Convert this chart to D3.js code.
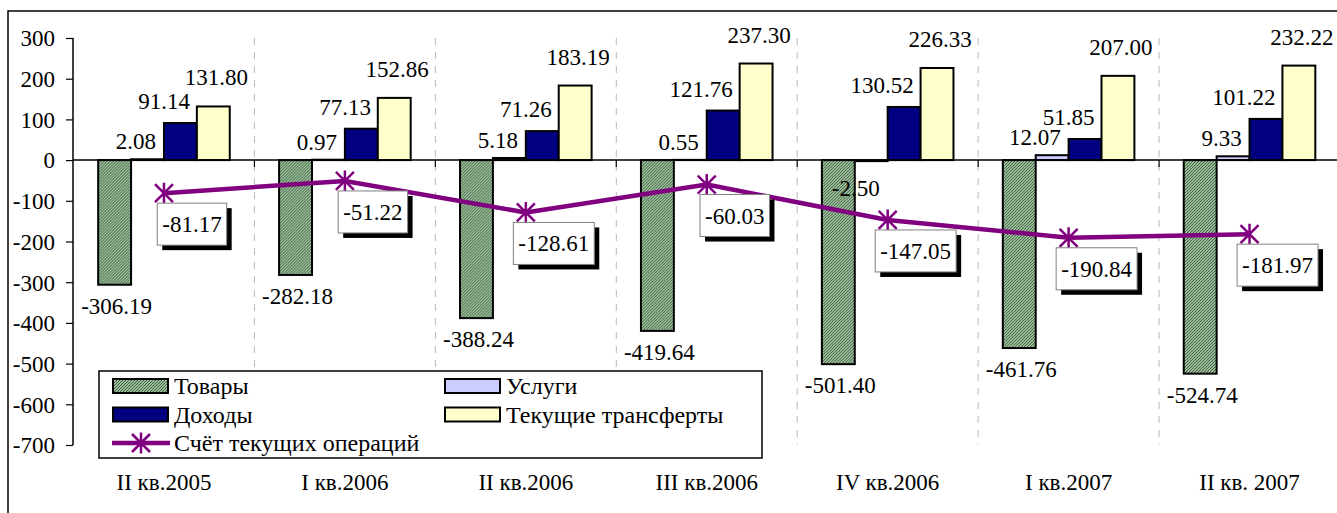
<!DOCTYPE html>
<html>
<head>
<meta charset="utf-8">
<script src="https://cdn.jsdelivr.net/npm/d3@7"></script>
<style>
  html, body { margin: 0; padding: 0; background: #fff; }
  svg { display: block; }
  text { font-family: "Liberation Serif", "Times New Roman", serif; font-size: 23px; fill: #000; }
  .legend text { font-size: 24px; }
</style>
</head>
<body>
<svg id="chart"></svg>
<script>
var width = 1337;
var height = 513;

// data
const categories = ["II кв.2005", "I кв.2006", "II кв.2006", "III кв.2006", "IV кв.2006", "I кв.2007", "II кв. 2007"];
const seriesNames = ["Товары", "Услуги", "Доходы", "Текущие трансферты"];
const lineName = "Счёт текущих операций";
const goods = [-306.19, -282.18, -388.24, -419.64, -501.40, -461.76, -524.74];
const services = [2.08, 0.97, 5.18, 0.55, -2.50, 12.07, 9.33];
const income = [91.14, 77.13, 71.26, 121.76, 130.52, 51.85, 101.22];
const transfers = [131.80, 152.86, 183.19, 237.30, 226.33, 207.00, 232.22];
const currentAccount = [-81.17, -51.22, -128.61, -60.03, -147.05, -190.84, -181.97];
const yTicks = [300, 200, 100, 0, -100, -200, -300, -400, -500, -600, -700];

const seriesValues = [goods, services, income, transfers];
const fills = ["url(#hatch)", "#ccccff", "#000080", "#ffffcc"];
const purple = "#800080";

let svg = d3.select("#chart")
    .attr("width", width)
    .attr("height", height)
    .attr("viewBox", [0, 0, width, height]);

// hatch for goods
let defs = svg.append("defs");
let pat = defs.append("pattern")
    .attr("id", "hatch")
    .attr("patternUnits", "userSpaceOnUse")
    .attr("width", 3).attr("height", 3);
pat.append("rect").attr("width", 3).attr("height", 3).attr("fill", "#cfe6c8");
pat.append("path")
    .attr("d", "M-1,1 l2,-2 M0,3 l3,-3 M2,4 l2,-2")
    .attr("stroke", "#2e5a34").attr("stroke-width", 1.1);

// outer frame
svg.append("rect")
    .attr("x", 8).attr("y", 11)
    .attr("width", 1345).attr("height", 530)
    .attr("fill", "none").attr("stroke", "#000").attr("stroke-width", 1.5);

const x = d3.scaleBand().domain(categories).range([73.5, 1340]).padding(0);
const x1 = d3.scaleBand().domain(seriesNames).range([0, x.bandwidth()]).paddingInner(0).paddingOuter(0.75);
const y = d3.scaleLinear().domain([-700, 300]).range([445, 38]);
const barW = x1.bandwidth();
const center = c => x(c) + x.bandwidth() / 2;
const fmt = v => v.toFixed(2);   // plain hyphen, as in the original

// dashed category gridlines
svg.append("g").selectAll("line")
    .data(categories.slice(1).map(c => x(c)).concat([x.range()[1]]))
    .join("line")
    .attr("x1", d => d).attr("x2", d => d)
    .attr("y1", y(300)).attr("y2", y(-700))
    .attr("stroke", "#b8b8b8").attr("stroke-width", 1)
    .attr("stroke-dasharray", "7,7");

// y axis
let yAxis = svg.append("g").attr("transform", "translate(73,0)")
    .call(d3.axisLeft(y).tickValues(yTicks).tickSize(7).tickPadding(11).tickFormat(d => String(d)));
yAxis.attr("font-size", null).attr("font-family", null);
yAxis.select(".domain").attr("stroke", "#000").attr("stroke-width", 1.5).attr("d", "M0," + y(300) + "V" + y(-700));
yAxis.selectAll(".tick line").attr("stroke", "#000").attr("stroke-width", 1.2);
yAxis.selectAll(".tick text").attr("dy", "0.34em");

// bars
let groups = svg.append("g").selectAll("g")
    .data(categories)
    .join("g")
    .attr("transform", c => "translate(" + x(c) + ",0)");

groups.selectAll("rect")
    .data((c, i) => seriesNames.map((s, k) => ({s: s, k: k, v: seriesValues[k][i]})))
    .join("rect")
    .attr("x", d => x1(d.s))
    .attr("y", d => y(Math.max(0, d.v)))
    .attr("width", barW)
    .attr("height", d => Math.abs(y(d.v) - y(0)))
    .attr("fill", d => fills[d.k])
    .attr("stroke", "#000")
    .attr("stroke-width", 2);

// zero line with category ticks
svg.append("line")
    .attr("x1", 73).attr("x2", width + 5)
    .attr("y1", y(0)).attr("y2", y(0))
    .attr("stroke", "#000").attr("stroke-width", 1.5);
svg.append("g").selectAll("line")
    .data(categories.slice(1).map(c => x(c)))
    .join("line")
    .attr("x1", d => d).attr("x2", d => d)
    .attr("y1", y(0)).attr("y2", y(0) + 7)
    .attr("stroke", "#000").attr("stroke-width", 1.2);

// category labels
svg.append("g").selectAll("text")
    .data(categories)
    .join("text")
    .attr("x", c => center(c))
    .attr("y", 490)
    .attr("text-anchor", "middle")
    .text(c => c);

// current account line
const star = "M0,-10.5V10.5M-9,-9L9,9M-9,9L9,-9";
const line = d3.line().x((d, i) => center(categories[i])).y(d => y(d));
svg.append("path")
    .datum(currentAccount)
    .attr("d", line)
    .attr("fill", "none")
    .attr("stroke", purple)
    .attr("stroke-width", 4.5)
    .attr("stroke-linejoin", "round");
svg.append("g").selectAll("path")
    .data(currentAccount)
    .join("path")
    .attr("d", star)
    .attr("transform", (d, i) => "translate(" + center(categories[i]) + "," + y(d) + ")")
    .attr("fill", "none")
    .attr("stroke", purple)
    .attr("stroke-width", 2.5);

// bar value labels
let labels = svg.append("g");
categories.forEach((c, i) => {
    let gx = x(c);
    // goods: under bar end
    labels.append("text")
        .attr("x", gx + x1("Товары") + barW / 2 + 2)
        .attr("y", y(goods[i]) + 29)
        .attr("text-anchor", "middle")
        .text(fmt(goods[i]));
    // services
    labels.append("text")
        .attr("x", gx + x1("Услуги") + 25)
        .attr("y", services[i] >= 0 ? y(services[i]) - 10 : y(services[i]) + 35)
        .attr("text-anchor", "end")
        .text(fmt(services[i]));
    // income
    labels.append("text")
        .attr("x", gx + x1("Доходы") + 26)
        .attr("y", y(income[i]) - 14)
        .attr("text-anchor", "end")
        .text(fmt(income[i]));
    // transfers
    labels.append("text")
        .attr("x", gx + x1("Текущие трансферты") + barW / 2 + 3)
        .attr("y", y(transfers[i]) - 21)
        .attr("text-anchor", "middle")
        .text(fmt(transfers[i]));
});

// boxed labels for current account
let boxes = svg.append("g");
currentAccount.forEach((v, i) => {
    let cx = center(categories[i]) + 28;
    let top = y(v) + 10;
    let g = boxes.append("g");
    let t = g.append("text")
        .attr("x", cx).attr("y", top + 29)
        .attr("text-anchor", "middle")
        .text(fmt(v));
    let w = t.node().getComputedTextLength() + 10;
    g.insert("rect", "text")
        .attr("x", cx - w / 2 + 5).attr("y", top + 5)
        .attr("width", w).attr("height", 42)
        .attr("fill", "#000");
    g.insert("rect", "text")
        .attr("x", cx - w / 2).attr("y", top)
        .attr("width", w).attr("height", 42)
        .attr("fill", "#fff").attr("stroke", "#808080").attr("stroke-width", 1);
});

// legend
let legend = svg.append("g").attr("class", "legend").attr("transform", "translate(99,371)");
legend.append("rect")
    .attr("width", 663).attr("height", 87)
    .attr("fill", "#fff").attr("stroke", "#000").attr("stroke-width", 1.5);
const legendPos = [[14, 15], [346, 15], [14, 43.5], [346, 43.5]];
seriesNames.forEach((s, k) => {
    let [lx, ly] = legendPos[k];
    legend.append("rect")
        .attr("x", lx).attr("y", ly - 7)
        .attr("width", 55).attr("height", 14)
        .attr("fill", fills[k]).attr("stroke", "#000").attr("stroke-width", 2);
    legend.append("text")
        .attr("x", lx + 61).attr("y", ly + 8)
        .text(s);
});
legend.append("line")
    .attr("x1", 13).attr("x2", 71).attr("y1", 72).attr("y2", 72)
    .attr("stroke", purple).attr("stroke-width", 4.5);
legend.append("path")
    .attr("d", star)
    .attr("transform", "translate(42,72)")
    .attr("fill", "none").attr("stroke", purple).attr("stroke-width", 2.5);
legend.append("text")
    .attr("x", 75).attr("y", 80)
    .text(lineName);
</script>
</body>
</html>
